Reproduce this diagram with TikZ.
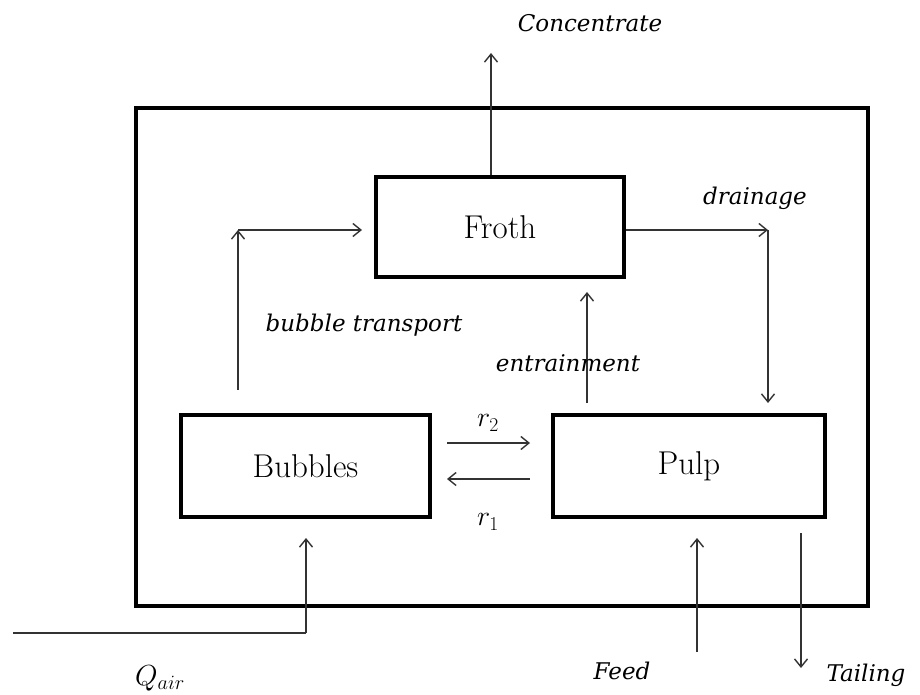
\documentclass[tikz,border=0pt]{standalone}
\usepackage{fix-cm}
\usepackage{fontspec}
\newfontfamily\lblfont{DejaVu Serif}
\usetikzlibrary{arrows.meta}
\begin{document}
\begin{tikzpicture}[x=1pt,y=-1pt,
  box/.style={draw,line width=3.4pt,inner sep=0pt,font=\fontsize{33}{37}\selectfont},
  flow/.style={draw=black!80,line width=1.4pt,-{Straight Barb[length=8pt,width=13pt]}},
  plain/.style={draw=black!80,line width=1.4pt},
  lbl/.style={font=\lblfont\itshape\fontsize{23}{26}\selectfont,inner sep=0pt},
  mth/.style={font=\fontsize{28}{32}\selectfont,inner sep=0pt}]
\useasboundingbox (0,0) rectangle (920,695);
\draw[line width=4.5pt] (136,108) rectangle (868,606);

\node[box,minimum width=248pt,minimum height=100pt] (Froth) at (500,227) {Froth};
\node[box,minimum width=249pt,minimum height=102pt] (Bubbles) at (305.5,466) {Bubbles};
\node[box,minimum width=272pt,minimum height=102pt] (Pulp) at (689,466) {Pulp};

% concentrate
\coordinate (concTop) at (491,53);
\draw[flow] (Froth.north -| concTop) -- (concTop);
\node[lbl] (lconc) at (590,23) {Concentrate};

% bubble transport
\coordinate (btStart) at (238,390);
\coordinate (btCorner) at (238,230);
\coordinate (btEnd) at (362,230);
\draw[flow] (btStart) -- (btCorner);
\draw[flow] (btCorner) -- (btEnd);
\node[lbl] (lbt) at (364,325) {bubble transport};

% drainage
\coordinate (drCorner) at (768,230);
\coordinate (drEnd) at (768,403);
\draw[flow] (Froth.east |- drCorner) -- (drCorner);
\draw[flow] (drCorner) -- (drEnd);
\node[lbl] (ldr) at (755,198) {drainage};

% entrainment
\coordinate (enStart) at (587,403);
\coordinate (enEnd) at (587,292);
\draw[flow] (enStart) -- (enEnd);
\node[lbl] (len) at (568,363) {entrainment};

% r2, r1
\coordinate (r2a) at (447,443);
\coordinate (r2b) at (530,443);
\coordinate (r1a) at (530,479);
\coordinate (r1b) at (447,479);
\draw[flow] (r2a) -- (r2b);
\draw[flow] (r1a) -- (r1b);
\node[mth] (lr2) at (488,423) {$r_2$};
\node[mth] (lr1) at (488,522) {$r_1$};

% air
\coordinate (airStart) at (13,633);
\coordinate (airCorner) at (306,633);
\coordinate (airEnd) at (306,538);
\draw[plain] (airStart) -- (airCorner);
\draw[flow] (airCorner) -- (airEnd);
\node[font=\fontsize{29}{33}\selectfont,inner sep=0pt] (lq) at (160,678) {$Q_{air}$};

% feed
\coordinate (feedStart) at (697,652);
\coordinate (feedEnd) at (697,538);
\draw[flow] (feedStart) -- (feedEnd);
\node[lbl] (lfeed) at (622,671) {Feed};

% tailing
\coordinate (tailStart) at (801,533);
\coordinate (tailEnd) at (801,668);
\draw[flow] (tailStart) -- (tailEnd);
\node[lbl] (ltail) at (866,675) {Tailing};
\end{tikzpicture}
\end{document}
